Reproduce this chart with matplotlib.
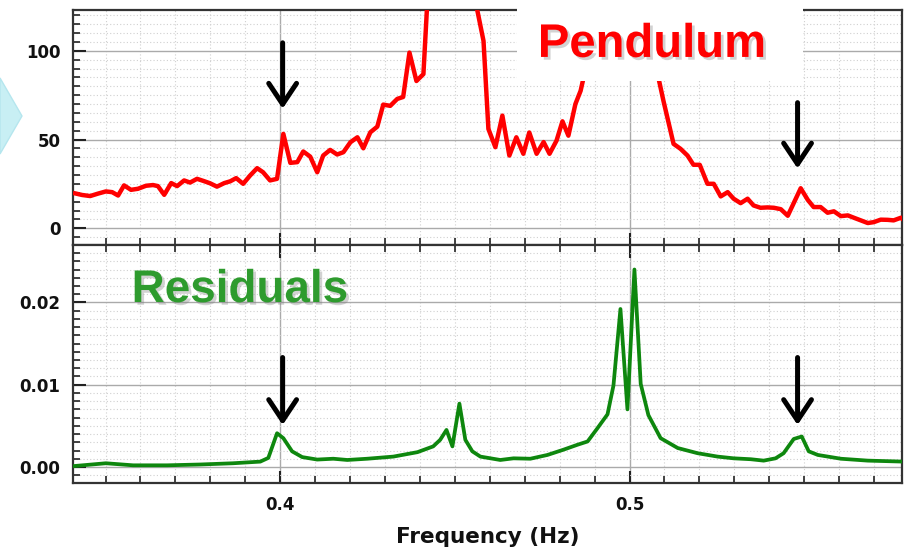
import matplotlib
matplotlib.use("Agg")
import matplotlib.pyplot as plt
import matplotlib.patheffects as pe
from matplotlib.patches import Polygon, Rectangle
from matplotlib.ticker import MultipleLocator

# Pendulum spectrum (top panel)
pend_freq = [0.3413, 0.3433, 0.3456, 0.3479, 0.3501, 0.3519, 0.3536, 0.3553, 0.3573, 0.3593,
             0.3616, 0.3636, 0.3650, 0.3668, 0.3688, 0.3705, 0.3725, 0.3742, 0.3762, 0.3782,
             0.3799, 0.3819, 0.3840, 0.3857, 0.3874, 0.3894, 0.3914, 0.3934, 0.3951, 0.3971,
             0.3991, 0.4009, 0.4029, 0.4049, 0.4066, 0.4086, 0.4106, 0.4123, 0.4143, 0.4163,
             0.4181, 0.4201, 0.4221, 0.4238, 0.4258, 0.4278, 0.4295, 0.4315, 0.4335, 0.4352,
             0.4370, 0.4390, 0.4410, 0.4430, 0.4447, 0.4467, 0.4487, 0.4504, 0.4524, 0.4544,
             0.4562, 0.4582, 0.4596, 0.4616, 0.4636, 0.4656, 0.4676, 0.4696, 0.4713, 0.4734,
             0.4754, 0.4771, 0.4791, 0.4808, 0.4825, 0.4845, 0.4860, 0.4880, 0.4900, 0.4917,
             0.4937, 0.4957, 0.4974, 0.4994, 0.5014, 0.5032, 0.5052, 0.5077, 0.5097, 0.5126,
             0.5146, 0.5166, 0.5183, 0.5201, 0.5223, 0.5241, 0.5261, 0.5281, 0.5298, 0.5318,
             0.5338, 0.5355, 0.5375, 0.5395, 0.5413, 0.5433, 0.5453, 0.5490, 0.5510, 0.5527,
             0.5547, 0.5567, 0.5585, 0.5605, 0.5625, 0.5642, 0.5662, 0.5682, 0.5699, 0.5719,
             0.5739, 0.5756, 0.5777, 0.5788]
pend_amp = [19.7, 18.8, 18.2, 19.6, 20.8, 20.4, 18.5, 24.2, 21.7, 22.3,
            24.0, 24.4, 23.8, 18.9, 25.5, 23.8, 27.0, 25.8, 27.9, 26.6,
            25.4, 23.5, 25.5, 26.5, 28.3, 25.1, 29.8, 33.9, 31.6, 27.0,
            27.9, 53.2, 36.9, 37.3, 43.3, 40.4, 31.6, 41.0, 44.2, 41.6,
            42.9, 48.5, 51.3, 45.1, 54.1, 57.3, 69.7, 69.0, 72.9, 74.0,
            99.0, 83.0, 86.9, 160, 230, 330, 400, 330, 220, 160,
            125, 105.6, 56.0, 45.7, 63.5, 41.0, 51.3, 42.0, 54.0, 42.0,
            48.6, 42.0, 49.4, 60.3, 52.2, 70.0, 77.5, 95, 140, 250,
            400, 600, 800, 700, 900, 500, 200, 90, 71.9, 47.6,
            44.8, 41.0, 35.8, 35.8, 25.1, 25.1, 18.0, 20.4, 16.7, 14.2,
            16.7, 12.9, 11.6, 11.8, 11.6, 10.8, 7.1, 22.6, 16.1, 12.0,
            12.0, 8.8, 9.6, 6.9, 7.3, 6.0, 4.5, 3.0, 3.5, 4.9,
            4.8, 4.5, 6.0, 4.1]

# Residual spectrum (bottom panel)
res_freq = [0.3407, 0.3501, 0.3579, 0.3676, 0.3771, 0.3865, 0.3943, 0.3966, 0.3991, 0.4009,
            0.4034, 0.4063, 0.4106, 0.4152, 0.4192, 0.4249, 0.4324, 0.4393, 0.4438, 0.4458,
            0.4476, 0.4493, 0.4513, 0.4530, 0.4550, 0.4573, 0.4630, 0.4668, 0.4716, 0.4765,
            0.4811, 0.4851, 0.4880, 0.4908, 0.4937, 0.4954, 0.4974, 0.4994, 0.5014, 0.5032,
            0.5054, 0.5089, 0.5138, 0.5195, 0.5252, 0.5298, 0.5347, 0.5384, 0.5418, 0.5441,
            0.5470, 0.5493, 0.5513, 0.5539, 0.5605, 0.5682, 0.5785]
res_amp = [0.0001, 0.00045, 0.0002, 0.0002, 0.0003, 0.00045, 0.00065, 0.0011, 0.0041, 0.0035,
           0.0019, 0.0012, 0.0009, 0.0010, 0.00085, 0.0010, 0.00126, 0.0018, 0.0025, 0.0033,
           0.0045, 0.0025, 0.0077, 0.0033, 0.0019, 0.00126, 0.00085, 0.00105, 0.0010, 0.00146,
           0.0021, 0.0027, 0.0031, 0.0047, 0.0064, 0.0099, 0.0192, 0.0070, 0.0240, 0.0101,
           0.0063, 0.0035, 0.0023, 0.00167, 0.00126, 0.00105, 0.00094, 0.00077, 0.00105, 0.00167,
           0.0034, 0.0037, 0.0019, 0.00146, 0.0010, 0.00077, 0.00065]

# Down-arrows marking the side peaks: (freq, tail, tip)
pend_arrows = [(0.4007, 104.5, 67.4), (0.5481, 70.8, 33.7)]
res_arrows = [(0.4007, 0.0133, 0.0051), (0.5481, 0.0133, 0.0051)]

plt.rcParams["font.family"] = ["DejaVu Sans"]
plt.rcParams["font.weight"] = "bold"

fig = plt.figure(figsize=(9.05, 5.48), dpi=100)
ax_top = fig.add_axes([0.0807, 0.5525, 0.9160, 0.4293])
ax_bot = fig.add_axes([0.0807, 0.1186, 0.9160, 0.4339], sharex=ax_top)

ax_top.plot(pend_freq, pend_amp, color="#ff0000", lw=3.2, zorder=3)
ax_bot.plot(res_freq, res_amp, color="#0e870e", lw=2.7, zorder=3)

ax_top.set_xlim(0.3407, 0.578)
ax_top.set_ylim(-9.5, 123)
ax_bot.set_ylim(-0.00195, 0.02695)

ax_top.yaxis.set_major_locator(MultipleLocator(50))
ax_top.yaxis.set_minor_locator(MultipleLocator(5))
ax_bot.yaxis.set_major_locator(MultipleLocator(0.01))
ax_bot.yaxis.set_minor_locator(MultipleLocator(0.001))
ax_bot.xaxis.set_major_locator(MultipleLocator(0.1))
ax_bot.xaxis.set_minor_locator(MultipleLocator(0.01))
ax_bot.yaxis.set_major_formatter(plt.FormatStrFormatter("%.2f"))
ax_bot.xaxis.set_major_formatter(plt.FormatStrFormatter("%.1f"))

for ax in (ax_top, ax_bot):
    ax.grid(which="major", color="#aaaaaa", lw=1.0, zorder=0)
    ax.grid(which="minor", color="#d0d0d0", lw=0.8, ls=(0, (1, 2)), zorder=0)
    ax.set_axisbelow(True)
    for sp in ax.spines.values():
        sp.set_linewidth(1.6)
        sp.set_color("#333333")
    ax.tick_params(which="major", direction="in", length=9, width=1.5,
                   color="#222222", labelsize=12, pad=9, labelcolor="#111111")
    ax.tick_params(which="minor", direction="in", length=5, width=1.2,
                   color="#222222")
    for lab in ax.get_yticklabels():
        lab.set_fontweight("bold")

ax_top.tick_params(axis="x", which="both", labelbottom=False)
ax_bot.tick_params(axis="x", which="both", top=True)
for lab in ax_bot.get_xticklabels():
    lab.set_fontweight("bold")
ax_bot.set_xlabel("Frequency (Hz)", fontsize=15.5, fontweight="bold", labelpad=10,
                  color="#111111")

arrow_style = dict(arrowstyle="->,head_length=0.75,head_width=0.5", lw=3.6,
                   color="black", mutation_scale=20, shrinkA=0, shrinkB=0)
for f, tail, tip in pend_arrows:
    ax_top.annotate("", xy=(f, tip), xytext=(f, tail), arrowprops=arrow_style, zorder=5)
for f, tail, tip in res_arrows:
    ax_bot.annotate("", xy=(f, tip), xytext=(f, tail), arrowprops=arrow_style, zorder=5)

title_font = ["Liberation Sans", "DejaVu Sans"]
shadow = [pe.SimplePatchShadow(offset=(2, -2), shadow_rgbFace="gray", alpha=0.35), pe.Normal()]

# white panel behind the "Pendulum" label
fig.add_artist(Rectangle((0.5713, 0.8522), 0.316, 0.1478, transform=fig.transFigure,
                         facecolor="white", edgecolor="none", zorder=3))
fig.text(0.7204, 0.9180, "Pendulum", color="#ff0000", fontsize=34, fontweight="bold",
         family=title_font, ha="center", va="center", zorder=4, path_effects=shadow)
fig.text(0.2652, 0.4708, "Residuals", color="#2e9b2e", fontsize=33, fontweight="bold",
         family=title_font, ha="center", va="center", zorder=4, path_effects=shadow)

# cyan chevron fragment at the left edge
fig.add_artist(Polygon([(0.0, 0.8577), (0.0243, 0.7883), (0.0, 0.7190)], closed=True,
                       transform=fig.transFigure, facecolor="#c8eff4",
                       edgecolor="#b5e6ee", zorder=1))

fig.savefig("out.png", dpi=100)
